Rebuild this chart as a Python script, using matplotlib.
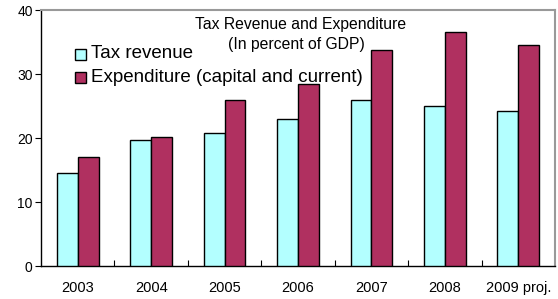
import matplotlib
matplotlib.use("Agg")
import matplotlib.pyplot as plt
import numpy as np
from matplotlib.patches import Rectangle

plt.rcParams['font.family'] = ['Liberation Sans', 'DejaVu Sans']

categories = ["2003", "2004", "2005", "2006", "2007", "2008", "2009 proj."]
tax_revenue = [14.6, 19.7, 20.8, 23.0, 25.9, 25.0, 24.2]
expenditure = [17.0, 20.2, 25.9, 28.5, 33.8, 36.6, 34.5]
series_labels = ["Tax revenue", "Expenditure (capital and current)"]
title_lines = ["Tax Revenue and Expenditure", "(In percent of GDP)"]

c_tax = "#B3FFFF"
c_exp = "#B03060"

fig = plt.figure(figsize=(5.58, 2.99), dpi=100)
ax = fig.add_axes([41/558, 33/299, 514/558, 256/299])

x = np.arange(len(categories))
w = 0.285
ax.bar(x - w/2, tax_revenue, width=w, color=c_tax, edgecolor="black", linewidth=1.0, zorder=3)
ax.bar(x + w/2, expenditure, width=w, color=c_exp, edgecolor="black", linewidth=1.0, zorder=3)

ax.set_xlim(-0.5, len(categories) - 0.5)
ax.set_ylim(0, 40)
ax.set_yticks([0, 10, 20, 30, 40])
ax.set_xticks(x)
ax.set_xticklabels(categories, fontsize=10.5)
ax.set_xticks(np.arange(0.5, len(categories) - 0.5, 1), minor=True)
ax.tick_params(axis='x', which='major', length=0, pad=11)
ax.tick_params(axis='x', which='minor', direction='in', length=4, width=0.8)
ax.tick_params(axis='y', direction='out', length=4, width=0.8, labelsize=10, pad=2)

ax.spines['left'].set_color('black')
ax.spines['bottom'].set_color('black')
ax.spines['left'].set_linewidth(1.0)
ax.spines['bottom'].set_linewidth(1.0)
for s in ['top', 'right']:
    ax.spines[s].set_color('#999999')
    ax.spines[s].set_linewidth(1.5)

ax.text((301 - 41) / 514, (266 - 24) / 256, title_lines[0], transform=ax.transAxes,
        ha='center', va='center', fontsize=11.3)
ax.text((296 - 41) / 514, (266 - 45) / 256, title_lines[1], transform=ax.transAxes,
        ha='center', va='center', fontsize=11.3)

# legend
for i, (lab, col) in enumerate(zip(series_labels, [c_tax, c_exp])):
    yc = (266 - (54 + 23 * i)) / 256
    x0 = (75 - 41) / 514
    ax.add_patch(Rectangle((x0, yc - 5.5/256), 11/514, 11/256, transform=ax.transAxes,
                           facecolor=col, edgecolor='black', linewidth=1.0, zorder=5))
    ax.text((91 - 41) / 514, yc, lab, transform=ax.transAxes, ha='left', va='center', fontsize=13.5)

fig.savefig("out.png", dpi=100)
